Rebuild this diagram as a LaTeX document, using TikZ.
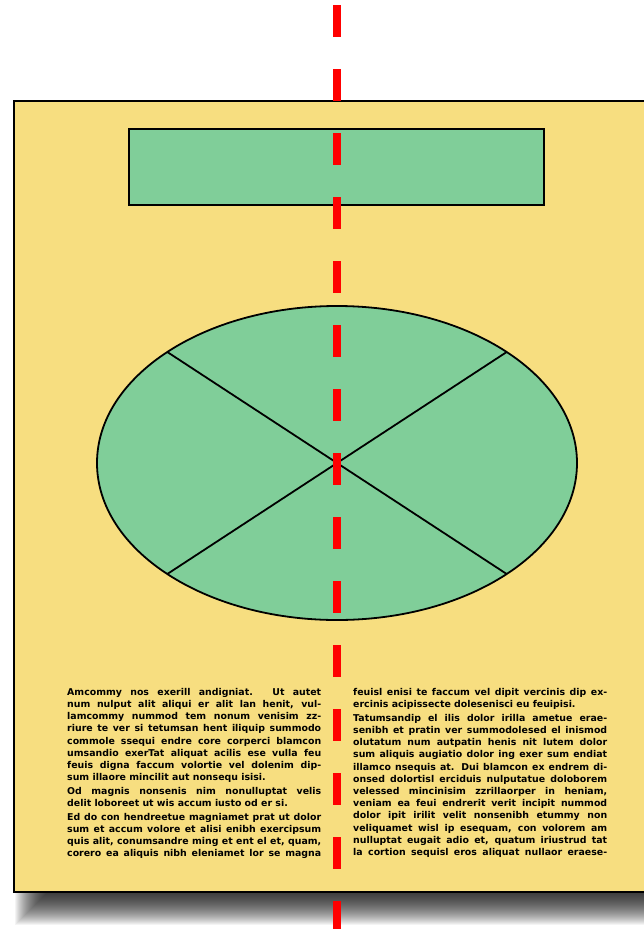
\documentclass[tikz,border=0pt]{standalone}
\usepackage{fontspec}
\setmainfont{DejaVu Sans}
\definecolor{pageyellow}{RGB}{247,222,128}
\definecolor{partgreen}{RGB}{128,206,153}
\newcommand{\jline}[1]{\makebox[254pt][s]{#1}}
\newcommand{\lline}[1]{\makebox[254pt][l]{#1}}
\begin{document}
\begin{tikzpicture}[x=1pt,y=-1pt,every node/.style={font=\bfseries\fontsize{9.4}{12.2}\selectfont}]
    \tikzset{
      page/.style={fill=pageyellow,draw=black,line width=2.4pt},
      greenpart/.style={fill=partgreen,draw=black,line width=1.5pt},
      divider/.style={black,line width=1.8pt},
      axisline/.style={red,line width=8pt,dash pattern=on 32pt off 32pt},
      column/.style={anchor=north west,inner sep=0pt,align=left}
    }
    \useasboundingbox (0,0) rectangle (643,929);
    % soft shadow under the sheet
    \foreach \r in {-25,...,10} {
      \fill[black,opacity=0.042] (40+\r,110) rectangle (720,900-\r);
    }
    \draw[page] (14,101) rectangle (700,892);
    \draw[greenpart] (129,129) rectangle (544,205);
    \begin{scope}[shift={(337,463)}]
      \draw[greenpart,line width=1.8pt] (0,0) ellipse [x radius=240,y radius=157];
      \draw[divider] (135:240 and 157) -- (-45:240 and 157);
      \draw[divider] (45:240 and 157) -- (-135:240 and 157);
    \end{scope}
    \node[column] (leftcol) at (67,688) {%
      \jline{Amcommy nos exerill andigniat. Ut autet}\\
      \jline{num nulput alit aliqui er alit lan henit, vul-}\\
      \jline{lamcommy nummod tem nonum venisim zz-}\\
      \jline{riure te ver si tetumsan hent iliquip summodo}\\
      \jline{commole ssequi endre core corperci blamcon}\\
      \jline{umsandio exerTat aliquat acilis ese vulla feu}\\
      \jline{feuis digna faccum volortie vel dolenim dip-}\\
      \lline{sum illaore mincilit aut nonsequ isisi.}\\[1.5pt]
      \jline{Od magnis nonsenis nim nonulluptat velis}\\
      \lline{delit loboreet ut wis accum iusto od er si.}\\[1.5pt]
      \jline{Ed do con hendreetue magniamet prat ut dolor}\\
      \jline{sum et accum volore et alisi enibh exercipsum}\\
      \jline{quis alit, conumsandre ming et ent el et, quam,}\\
      \jline{corero ea aliquis nibh eleniamet lor se magna}};
    \node[column] (rightcol) at (353,688) {%
      \jline{feuisl enisi te faccum vel dipit vercinis dip ex-}\\
      \lline{ercinis acipissecte dolesenisci eu feuipisi.}\\[1.5pt]
      \jline{Tatumsandip el ilis dolor irilla ametue erae-}\\
      \jline{senibh et pratin ver summodolesed el inismod}\\
      \jline{olutatum num autpatin henis nit lutem dolor}\\
      \jline{sum aliquis augiatio dolor ing exer sum endiat}\\
      \jline{illamco nsequis at. Dui blamcon ex endrem di-}\\
      \jline{onsed dolortisl erciduis nulputatue doloborem}\\
      \jline{velessed mincinisim zzrillaorper in heniam,}\\
      \jline{veniam ea feui endrerit verit incipit nummod}\\
      \jline{dolor ipit irilit velit nonsenibh etummy non}\\
      \jline{veliquamet wisl ip esequam, con volorem am}\\
      \jline{nulluptat eugait adio et, quatum iriustrud tat}\\
      \jline{la cortion sequisl eros aliquat nullaor eraese-}};
    \coordinate (axtop) at (337,5);
    \coordinate (axbot) at (337,929);
    \draw[axisline] (axtop) -- (axbot);
  \end{tikzpicture}
\end{document}
